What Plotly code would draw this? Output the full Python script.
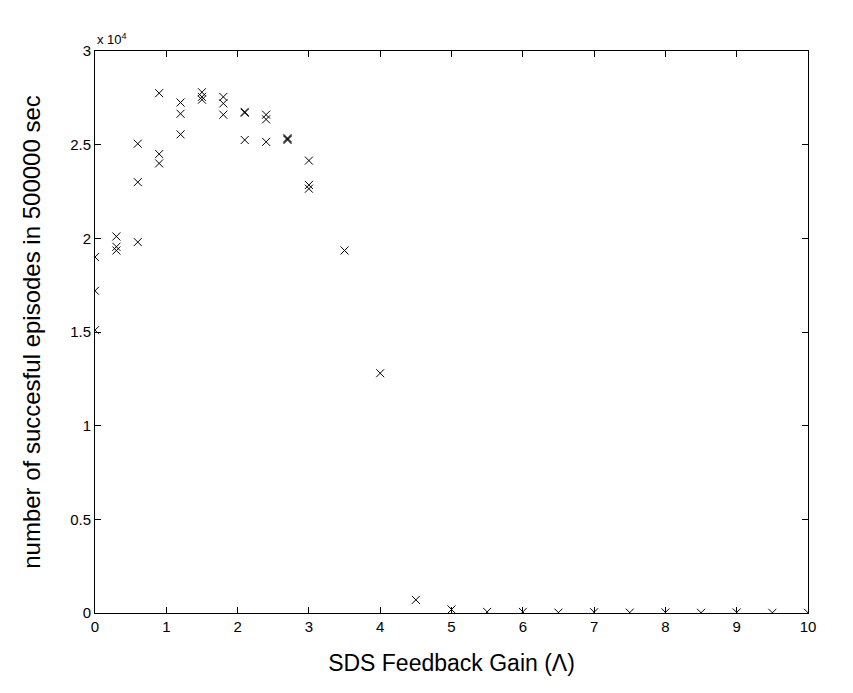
import plotly.graph_objects as go

gain = [0, 0, 0,
        0.3, 0.3, 0.3,
        0.6, 0.6, 0.6,
        0.9, 0.9, 0.9,
        1.2, 1.2, 1.2,
        1.5, 1.5, 1.5,
        1.8, 1.8, 1.8,
        2.1, 2.1, 2.1,
        2.4, 2.4, 2.4,
        2.7, 2.7, 2.7,
        3.0, 3.0, 3.0,
        3.5, 4.0, 4.5, 5.0, 5.5, 6.0, 6.5, 7.0, 7.5, 8.0, 8.5, 9.0, 9.5, 10.0]
episodes = [19000, 17200, 15100,
            20100, 19550, 19350,
            25050, 23000, 19800,
            27750, 24500, 24000,
            27250, 26650, 25550,
            27800, 27550, 27400,
            27550, 27200, 26600,
            26750, 26700, 25250,
            26600, 26350, 25150,
            25350, 25300, 25250,
            24150, 22850, 22650,
            19350, 12800, 700, 190, 60, 60, 20, 40, 20, 30, 10, 30, 10, 10]

x_ticks = [0, 1, 2, 3, 4, 5, 6, 7, 8, 9, 10]
y_tickvals = [0, 5000, 10000, 15000, 20000, 25000, 30000]
y_ticktext = ["0", "0.5", "1", "1.5", "2", "2.5", "3"]

fig = go.Figure(go.Scatter(
    x=gain, y=episodes, mode="markers",
    marker=dict(symbol="x-thin", size=8, line=dict(color="black", width=1), color="black"),
    hoverinfo="x+y",
))

font = "Liberation Sans, Arial, Helvetica, sans-serif"
axis_common = dict(
    showgrid=False, zeroline=False, showline=True, linecolor="black", linewidth=1,
    mirror="ticks", ticks="inside", ticklen=6, tickcolor="black",
    tickfont=dict(family=font, size=15, color="black"),
)
fig.update_layout(
    width=853, height=693,
    margin=dict(l=87, r=53, t=43, b=88),
    paper_bgcolor="white", plot_bgcolor="white",
    showlegend=False,
    xaxis=dict(range=[0, 10], tickvals=x_ticks, title=dict(text="SDS Feedback Gain (Λ)",
               font=dict(family=font, size=23, color="black"), standoff=20), **axis_common),
    yaxis=dict(range=[0, 30000], tickvals=y_tickvals, ticktext=y_ticktext,
               title=dict(text="number of succesful episodes in 500000 sec",
                          font=dict(family=font, size=24, color="black"), standoff=22), **axis_common),
    annotations=[dict(text="x 10<sup>4</sup>", xref="paper", yref="paper", x=0, y=1,
                      xanchor="left", yanchor="bottom", showarrow=False, yshift=2,
                      font=dict(family=font, size=13, color="black"))],
)

fig.write_html("out.html")
